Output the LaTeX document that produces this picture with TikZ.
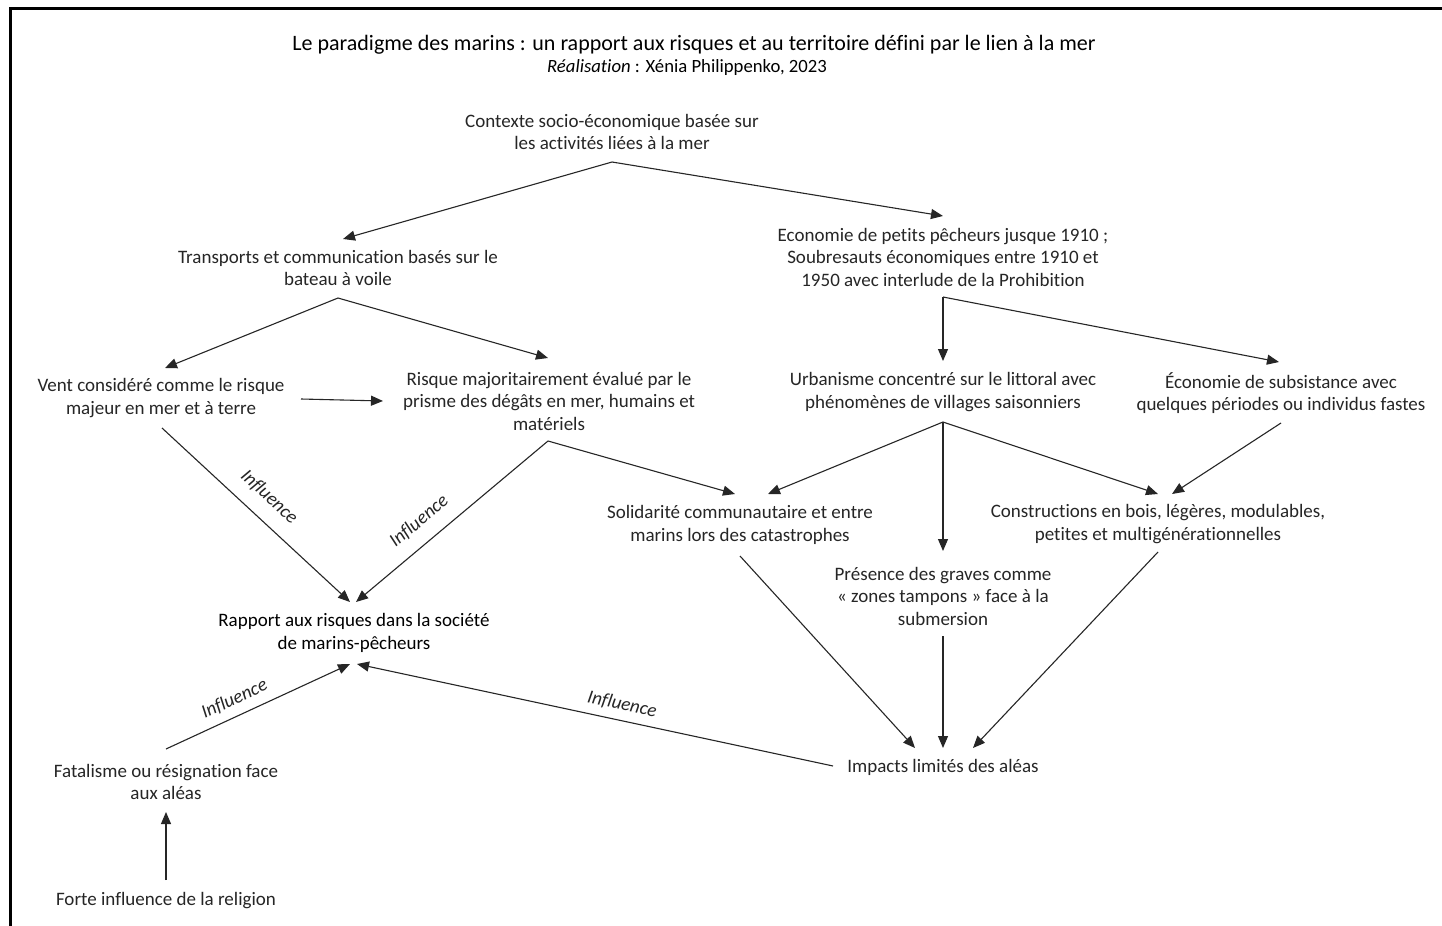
\documentclass[tikz,border=0pt]{standalone}
\usepackage{fontspec}
\setmainfont{Carlito}[Ligatures=NoCommon]
\usetikzlibrary{arrows.meta}
\begin{document}
\begin{tikzpicture}[x=0.5pt,y=-0.5pt,
  txt/.style={inner sep=0pt, align=center, text=black!85, font=\fontsize{9.5}{11.25}\selectfont},
  arr/.style={draw=black!85, line width=0.55pt, -{Triangle[length=6pt,width=5pt]}},
  lab/.style={midway, sloped, above=2pt, inner sep=1pt, text=black!85, font=\fontsize{9.5}{11}\selectfont\itshape}]
\useasboundingbox (0,0) rectangle (1442,926);
\fill[white] (0,0) rectangle (1442,926);
\draw[line width=1.1pt] (10.5,1000) -- (10.5,8.5) -- (1500,8.5);
% title
\node[inner sep=0pt, font=\fontsize{11}{13}\selectfont] (title) at (694,45) {Le paradigme des marins : un rapport aux risques et au territoire défini par le lien à la mer};
\node[inner sep=0pt, font=\fontsize{9.35}{11}\selectfont] (sub) at (687,68) {\textit{Réalisation} : Xénia Philippenko, 2023};
% nodes
\node[txt] (ctx) at (612,132) {Contexte socio-économique basée sur\\les activités liées à la mer};
\node[txt] (trans) at (338,268) {Transports et communication basés sur le\\bateau à voile};
\node[txt] (eco) at (943,257) {Economie de petits pêcheurs jusque 1910 ;\\Soubresauts économiques entre 1910 et\\1950 avec interlude de la Prohibition};
\node[txt] (vent) at (161,398) {Vent considéré comme le risque\\majeur en mer et à terre};
\node[txt] (risque) at (549,401) {Risque majoritairement évalué par le\\prisme des dégâts en mer, humains et\\matériels};
\node[txt] (urb) at (943,392) {Urbanisme concentré sur le littoral avec\\phénomènes de villages saisonniers};
\node[txt] (subs) at (1281,393) {Économie de subsistance avec\\quelques périodes ou individus fastes};
\node[txt] (soli) at (740,525) {Solidarité communautaire et entre\\marins lors des catastrophes};
\node[txt] (constr) at (1158,524) {Constructions en bois, légères, modulables,\\petites et multigénérationnelles};
\node[txt] (pres) at (943,596) {Présence des graves comme\\« zones tampons » face à la\\submersion};
\node[txt, text=black] (rapport) at (354,633) {Rapport aux risques dans la société\\de marins-pêcheurs};
\node[txt] (impacts) at (943,767) {Impacts limités des aléas};
\node[txt] (fatal) at (166,782) {Fatalisme ou résignation face\\aux aléas};
\node[txt] (forte) at (166,901) {Forte influence de la religion};
% connector points
\coordinate (ctxS) at (612,162);
\coordinate (transN) at (343,239);
\coordinate (ecoN) at (943,216);
\coordinate (transS) at (338,298);
\coordinate (ventN) at (165,368);
\coordinate (risqueN) at (548,358);
\coordinate (ventE) at (301,399);
\coordinate (risqueW) at (383,401);
\coordinate (ecoS) at (943,297);
\coordinate (urbN) at (943,361);
\coordinate (subsN) at (1279,362);
\coordinate (urbS) at (943,422);
\coordinate (soliNR) at (768,494);
\coordinate (presN) at (943,551);
\coordinate (constrNL) at (1158,494);
\coordinate (risqueS) at (548,441);
\coordinate (soliNL) at (735,494);
\coordinate (rapNR) at (356,602);
\coordinate (rapNL) at (350,602);
\coordinate (subsS) at (1281,423);
\coordinate (constrNR) at (1172,494);
\coordinate (ventS) at (162,428);
\coordinate (soliS) at (740,556);
\coordinate (impNL) at (915,748);
\coordinate (presS) at (943,636);
\coordinate (impN) at (943,748);
\coordinate (constrS) at (1158,552);
\coordinate (impNR) at (973,748);
\coordinate (impW) at (833,766);
\coordinate (rapSR) at (357,664);
\coordinate (fatalN) at (166,749);
\coordinate (rapSL) at (350,664);
\coordinate (forteN) at (166,880);
\coordinate (fatalS) at (166,812);
% connectors
\draw[arr] (ctxS) -- (transN);
\draw[arr] (ctxS) -- (ecoN);
\draw[arr] (transS) -- (ventN);
\draw[arr] (transS) -- (risqueN);
\draw[arr] (ventE) -- (risqueW);
\draw[arr] (ecoS) -- (urbN);
\draw[arr] (ecoS) -- (subsN);
\draw[arr] (urbS) -- (soliNR);
\draw[arr] (urbS) -- (presN);
\draw[arr] (urbS) -- (constrNL);
\draw[arr] (risqueS) -- (soliNL);
\draw[arr] (risqueS) -- node[lab, pos=0.6, above=3.6pt] {Influence} (rapNR);
\draw[arr] (subsS) -- (constrNR);
\draw[arr] (ventS) -- node[lab, pos=0.49, above=4pt] {Influence} (rapNL);
\draw[arr] (soliS) -- (impNL);
\draw[arr] (presS) -- (impN);
\draw[arr] (constrS) -- (impNR);
\draw[arr] (impW) -- node[lab, pos=0.45, above=0.8pt] {Influence} (rapSR);
\draw[arr] (fatalN) -- node[lab, pos=0.41, above=1.3pt] {Influence} (rapSL);
\draw[arr] (forteN) -- (fatalS);
\end{tikzpicture}
\end{document}
